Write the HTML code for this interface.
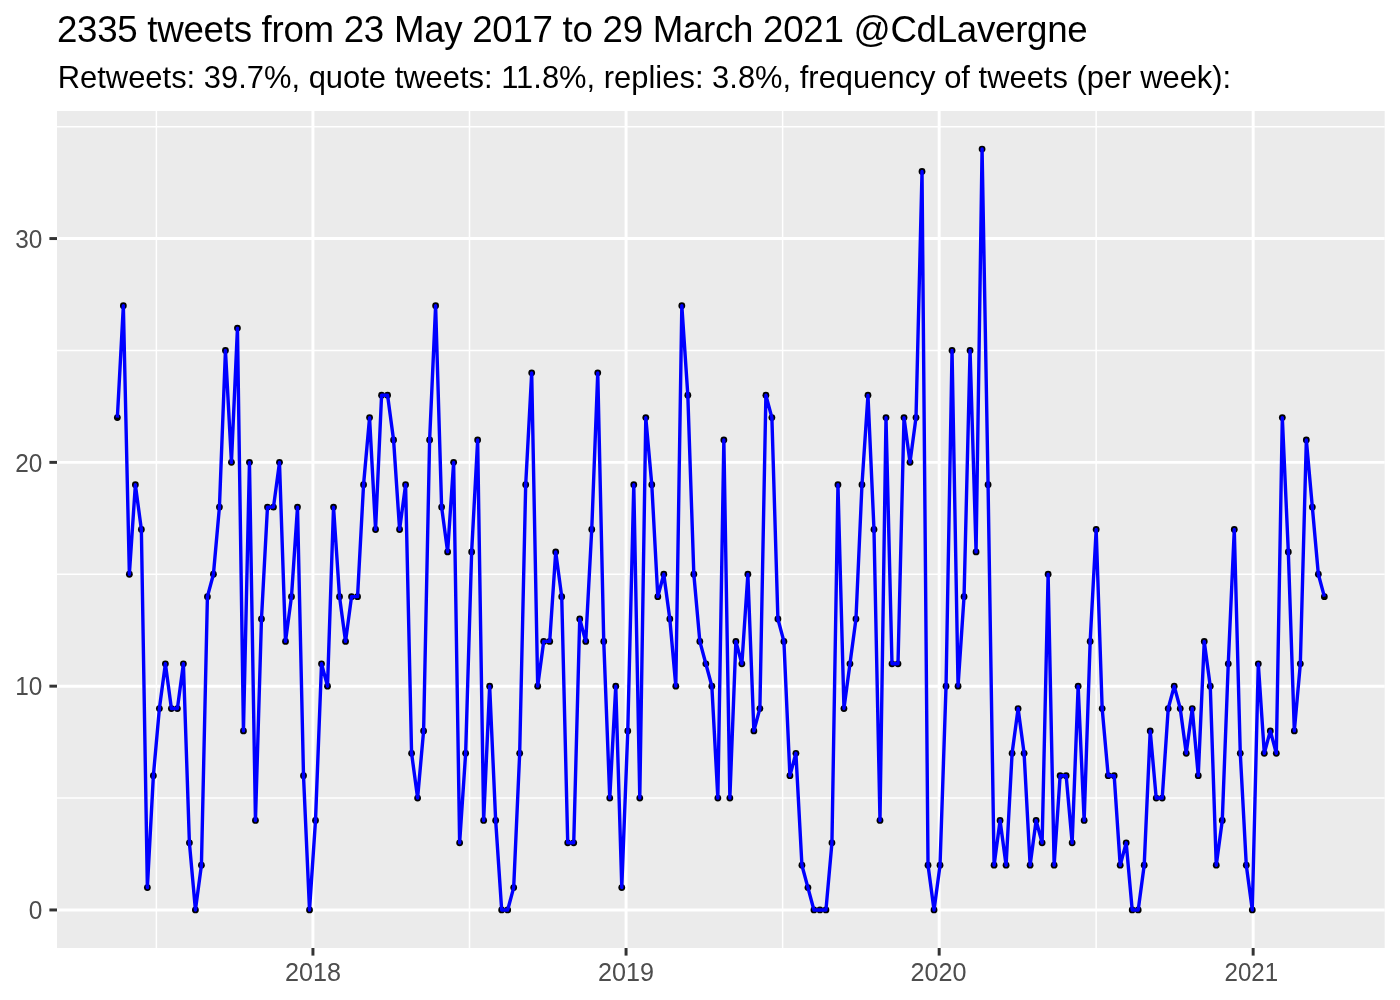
<!DOCTYPE html>
<html lang="en"><head><meta charset="utf-8"><title>Tweets per week @CdLavergne</title>
<style>html,body{margin:0;padding:0;background:#fff}svg{display:block}text{font-family:"Liberation Sans",sans-serif}</style></head><body>
<svg width="1400" height="1000" viewBox="0 0 1400 1000">
<rect width="1400" height="1000" fill="#fff"/>
<rect x="57.0" y="111.0" width="1327.70" height="837.00" fill="#EBEBEB"/>
<g stroke="#fff" stroke-width="1.48" fill="none">
<line x1="57.0" x2="1384.7" y1="798.06" y2="798.06"/>
<line x1="57.0" x2="1384.7" y1="574.26" y2="574.26"/>
<line x1="57.0" x2="1384.7" y1="350.46" y2="350.46"/>
<line x1="57.0" x2="1384.7" y1="126.67" y2="126.67"/>
<line x1="156.38" x2="156.38" y1="111.0" y2="948.0"/>
<line x1="469.50" x2="469.50" y1="111.0" y2="948.0"/>
<line x1="782.62" x2="782.62" y1="111.0" y2="948.0"/>
<line x1="1096.16" x2="1096.16" y1="111.0" y2="948.0"/>
</g>
<g stroke="#fff" stroke-width="2.96" fill="none">
<line x1="57.0" x2="1384.7" y1="909.95" y2="909.95"/>
<line x1="57.0" x2="1384.7" y1="686.16" y2="686.16"/>
<line x1="57.0" x2="1384.7" y1="462.36" y2="462.36"/>
<line x1="57.0" x2="1384.7" y1="238.56" y2="238.56"/>
<line x1="312.94" x2="312.94" y1="111.0" y2="948.0"/>
<line x1="626.06" x2="626.06" y1="111.0" y2="948.0"/>
<line x1="939.17" x2="939.17" y1="111.0" y2="948.0"/>
<line x1="1253.15" x2="1253.15" y1="111.0" y2="948.0"/>
</g>
<g fill="#000">
<circle cx="117.35" cy="417.60" r="3.4"/>
<circle cx="123.35" cy="305.70" r="3.4"/>
<circle cx="129.36" cy="574.26" r="3.4"/>
<circle cx="135.36" cy="484.74" r="3.4"/>
<circle cx="141.37" cy="529.50" r="3.4"/>
<circle cx="147.37" cy="887.57" r="3.4"/>
<circle cx="153.38" cy="775.68" r="3.4"/>
<circle cx="159.38" cy="708.54" r="3.4"/>
<circle cx="165.39" cy="663.78" r="3.4"/>
<circle cx="171.39" cy="708.54" r="3.4"/>
<circle cx="177.40" cy="708.54" r="3.4"/>
<circle cx="183.40" cy="663.78" r="3.4"/>
<circle cx="189.41" cy="842.82" r="3.4"/>
<circle cx="195.41" cy="909.95" r="3.4"/>
<circle cx="201.42" cy="865.20" r="3.4"/>
<circle cx="207.42" cy="596.64" r="3.4"/>
<circle cx="213.43" cy="574.26" r="3.4"/>
<circle cx="219.43" cy="507.12" r="3.4"/>
<circle cx="225.44" cy="350.46" r="3.4"/>
<circle cx="231.44" cy="462.36" r="3.4"/>
<circle cx="237.45" cy="328.08" r="3.4"/>
<circle cx="243.45" cy="730.92" r="3.4"/>
<circle cx="249.46" cy="462.36" r="3.4"/>
<circle cx="255.46" cy="820.44" r="3.4"/>
<circle cx="261.47" cy="619.02" r="3.4"/>
<circle cx="267.47" cy="507.12" r="3.4"/>
<circle cx="273.48" cy="507.12" r="3.4"/>
<circle cx="279.48" cy="462.36" r="3.4"/>
<circle cx="285.49" cy="641.40" r="3.4"/>
<circle cx="291.49" cy="596.64" r="3.4"/>
<circle cx="297.50" cy="507.12" r="3.4"/>
<circle cx="303.50" cy="775.68" r="3.4"/>
<circle cx="309.51" cy="909.95" r="3.4"/>
<circle cx="315.51" cy="820.44" r="3.4"/>
<circle cx="321.52" cy="663.78" r="3.4"/>
<circle cx="327.52" cy="686.16" r="3.4"/>
<circle cx="333.53" cy="507.12" r="3.4"/>
<circle cx="339.53" cy="596.64" r="3.4"/>
<circle cx="345.54" cy="641.40" r="3.4"/>
<circle cx="351.54" cy="596.64" r="3.4"/>
<circle cx="357.55" cy="596.64" r="3.4"/>
<circle cx="363.55" cy="484.74" r="3.4"/>
<circle cx="369.56" cy="417.60" r="3.4"/>
<circle cx="375.56" cy="529.50" r="3.4"/>
<circle cx="381.57" cy="395.22" r="3.4"/>
<circle cx="387.57" cy="395.22" r="3.4"/>
<circle cx="393.58" cy="439.98" r="3.4"/>
<circle cx="399.58" cy="529.50" r="3.4"/>
<circle cx="405.59" cy="484.74" r="3.4"/>
<circle cx="411.59" cy="753.30" r="3.4"/>
<circle cx="417.60" cy="798.06" r="3.4"/>
<circle cx="423.60" cy="730.92" r="3.4"/>
<circle cx="429.61" cy="439.98" r="3.4"/>
<circle cx="435.61" cy="305.70" r="3.4"/>
<circle cx="441.62" cy="507.12" r="3.4"/>
<circle cx="447.62" cy="551.88" r="3.4"/>
<circle cx="453.63" cy="462.36" r="3.4"/>
<circle cx="459.63" cy="842.82" r="3.4"/>
<circle cx="465.64" cy="753.30" r="3.4"/>
<circle cx="471.64" cy="551.88" r="3.4"/>
<circle cx="477.65" cy="439.98" r="3.4"/>
<circle cx="483.65" cy="820.44" r="3.4"/>
<circle cx="489.66" cy="686.16" r="3.4"/>
<circle cx="495.66" cy="820.44" r="3.4"/>
<circle cx="501.67" cy="909.95" r="3.4"/>
<circle cx="507.67" cy="909.95" r="3.4"/>
<circle cx="513.68" cy="887.57" r="3.4"/>
<circle cx="519.68" cy="753.30" r="3.4"/>
<circle cx="525.69" cy="484.74" r="3.4"/>
<circle cx="531.69" cy="372.84" r="3.4"/>
<circle cx="537.70" cy="686.16" r="3.4"/>
<circle cx="543.70" cy="641.40" r="3.4"/>
<circle cx="549.71" cy="641.40" r="3.4"/>
<circle cx="555.71" cy="551.88" r="3.4"/>
<circle cx="561.72" cy="596.64" r="3.4"/>
<circle cx="567.72" cy="842.82" r="3.4"/>
<circle cx="573.73" cy="842.82" r="3.4"/>
<circle cx="579.73" cy="619.02" r="3.4"/>
<circle cx="585.74" cy="641.40" r="3.4"/>
<circle cx="591.74" cy="529.50" r="3.4"/>
<circle cx="597.75" cy="372.84" r="3.4"/>
<circle cx="603.75" cy="641.40" r="3.4"/>
<circle cx="609.76" cy="798.06" r="3.4"/>
<circle cx="615.76" cy="686.16" r="3.4"/>
<circle cx="621.77" cy="887.57" r="3.4"/>
<circle cx="627.77" cy="730.92" r="3.4"/>
<circle cx="633.78" cy="484.74" r="3.4"/>
<circle cx="639.78" cy="798.06" r="3.4"/>
<circle cx="645.79" cy="417.60" r="3.4"/>
<circle cx="651.79" cy="484.74" r="3.4"/>
<circle cx="657.80" cy="596.64" r="3.4"/>
<circle cx="663.80" cy="574.26" r="3.4"/>
<circle cx="669.81" cy="619.02" r="3.4"/>
<circle cx="675.81" cy="686.16" r="3.4"/>
<circle cx="681.82" cy="305.70" r="3.4"/>
<circle cx="687.82" cy="395.22" r="3.4"/>
<circle cx="693.83" cy="574.26" r="3.4"/>
<circle cx="699.83" cy="641.40" r="3.4"/>
<circle cx="705.84" cy="663.78" r="3.4"/>
<circle cx="711.84" cy="686.16" r="3.4"/>
<circle cx="717.85" cy="798.06" r="3.4"/>
<circle cx="723.85" cy="439.98" r="3.4"/>
<circle cx="729.86" cy="798.06" r="3.4"/>
<circle cx="735.86" cy="641.40" r="3.4"/>
<circle cx="741.87" cy="663.78" r="3.4"/>
<circle cx="747.87" cy="574.26" r="3.4"/>
<circle cx="753.88" cy="730.92" r="3.4"/>
<circle cx="759.88" cy="708.54" r="3.4"/>
<circle cx="765.89" cy="395.22" r="3.4"/>
<circle cx="771.89" cy="417.60" r="3.4"/>
<circle cx="777.90" cy="619.02" r="3.4"/>
<circle cx="783.90" cy="641.40" r="3.4"/>
<circle cx="789.91" cy="775.68" r="3.4"/>
<circle cx="795.91" cy="753.30" r="3.4"/>
<circle cx="801.92" cy="865.20" r="3.4"/>
<circle cx="807.92" cy="887.57" r="3.4"/>
<circle cx="813.93" cy="909.95" r="3.4"/>
<circle cx="819.93" cy="909.95" r="3.4"/>
<circle cx="825.94" cy="909.95" r="3.4"/>
<circle cx="831.94" cy="842.82" r="3.4"/>
<circle cx="837.95" cy="484.74" r="3.4"/>
<circle cx="843.95" cy="708.54" r="3.4"/>
<circle cx="849.96" cy="663.78" r="3.4"/>
<circle cx="855.96" cy="619.02" r="3.4"/>
<circle cx="861.97" cy="484.74" r="3.4"/>
<circle cx="867.97" cy="395.22" r="3.4"/>
<circle cx="873.98" cy="529.50" r="3.4"/>
<circle cx="879.98" cy="820.44" r="3.4"/>
<circle cx="885.99" cy="417.60" r="3.4"/>
<circle cx="891.99" cy="663.78" r="3.4"/>
<circle cx="898.00" cy="663.78" r="3.4"/>
<circle cx="904.00" cy="417.60" r="3.4"/>
<circle cx="910.01" cy="462.36" r="3.4"/>
<circle cx="916.01" cy="417.60" r="3.4"/>
<circle cx="922.02" cy="171.43" r="3.4"/>
<circle cx="928.02" cy="865.20" r="3.4"/>
<circle cx="934.03" cy="909.95" r="3.4"/>
<circle cx="940.03" cy="865.20" r="3.4"/>
<circle cx="946.04" cy="686.16" r="3.4"/>
<circle cx="952.04" cy="350.46" r="3.4"/>
<circle cx="958.05" cy="686.16" r="3.4"/>
<circle cx="964.05" cy="596.64" r="3.4"/>
<circle cx="970.06" cy="350.46" r="3.4"/>
<circle cx="976.06" cy="551.88" r="3.4"/>
<circle cx="982.07" cy="149.05" r="3.4"/>
<circle cx="988.07" cy="484.74" r="3.4"/>
<circle cx="994.08" cy="865.20" r="3.4"/>
<circle cx="1000.08" cy="820.44" r="3.4"/>
<circle cx="1006.09" cy="865.20" r="3.4"/>
<circle cx="1012.09" cy="753.30" r="3.4"/>
<circle cx="1018.10" cy="708.54" r="3.4"/>
<circle cx="1024.10" cy="753.30" r="3.4"/>
<circle cx="1030.11" cy="865.20" r="3.4"/>
<circle cx="1036.11" cy="820.44" r="3.4"/>
<circle cx="1042.12" cy="842.82" r="3.4"/>
<circle cx="1048.12" cy="574.26" r="3.4"/>
<circle cx="1054.13" cy="865.20" r="3.4"/>
<circle cx="1060.13" cy="775.68" r="3.4"/>
<circle cx="1066.14" cy="775.68" r="3.4"/>
<circle cx="1072.14" cy="842.82" r="3.4"/>
<circle cx="1078.15" cy="686.16" r="3.4"/>
<circle cx="1084.15" cy="820.44" r="3.4"/>
<circle cx="1090.16" cy="641.40" r="3.4"/>
<circle cx="1096.16" cy="529.50" r="3.4"/>
<circle cx="1102.17" cy="708.54" r="3.4"/>
<circle cx="1108.17" cy="775.68" r="3.4"/>
<circle cx="1114.18" cy="775.68" r="3.4"/>
<circle cx="1120.18" cy="865.20" r="3.4"/>
<circle cx="1126.19" cy="842.82" r="3.4"/>
<circle cx="1132.19" cy="909.95" r="3.4"/>
<circle cx="1138.20" cy="909.95" r="3.4"/>
<circle cx="1144.20" cy="865.20" r="3.4"/>
<circle cx="1150.21" cy="730.92" r="3.4"/>
<circle cx="1156.21" cy="798.06" r="3.4"/>
<circle cx="1162.22" cy="798.06" r="3.4"/>
<circle cx="1168.22" cy="708.54" r="3.4"/>
<circle cx="1174.23" cy="686.16" r="3.4"/>
<circle cx="1180.23" cy="708.54" r="3.4"/>
<circle cx="1186.24" cy="753.30" r="3.4"/>
<circle cx="1192.24" cy="708.54" r="3.4"/>
<circle cx="1198.25" cy="775.68" r="3.4"/>
<circle cx="1204.25" cy="641.40" r="3.4"/>
<circle cx="1210.26" cy="686.16" r="3.4"/>
<circle cx="1216.26" cy="865.20" r="3.4"/>
<circle cx="1222.27" cy="820.44" r="3.4"/>
<circle cx="1228.27" cy="663.78" r="3.4"/>
<circle cx="1234.28" cy="529.50" r="3.4"/>
<circle cx="1240.28" cy="753.30" r="3.4"/>
<circle cx="1246.29" cy="865.20" r="3.4"/>
<circle cx="1252.29" cy="909.95" r="3.4"/>
<circle cx="1258.30" cy="663.78" r="3.4"/>
<circle cx="1264.30" cy="753.30" r="3.4"/>
<circle cx="1270.31" cy="730.92" r="3.4"/>
<circle cx="1276.31" cy="753.30" r="3.4"/>
<circle cx="1282.32" cy="417.60" r="3.4"/>
<circle cx="1288.32" cy="551.88" r="3.4"/>
<circle cx="1294.33" cy="730.92" r="3.4"/>
<circle cx="1300.33" cy="663.78" r="3.4"/>
<circle cx="1306.34" cy="439.98" r="3.4"/>
<circle cx="1312.34" cy="507.12" r="3.4"/>
<circle cx="1318.35" cy="574.26" r="3.4"/>
<circle cx="1324.35" cy="596.64" r="3.4"/>
</g>
<polyline points="117.35,417.60 123.35,305.70 129.36,574.26 135.36,484.74 141.37,529.50 147.37,887.57 153.38,775.68 159.38,708.54 165.39,663.78 171.39,708.54 177.40,708.54 183.40,663.78 189.41,842.82 195.41,909.95 201.42,865.20 207.42,596.64 213.43,574.26 219.43,507.12 225.44,350.46 231.44,462.36 237.45,328.08 243.45,730.92 249.46,462.36 255.46,820.44 261.47,619.02 267.47,507.12 273.48,507.12 279.48,462.36 285.49,641.40 291.49,596.64 297.50,507.12 303.50,775.68 309.51,909.95 315.51,820.44 321.52,663.78 327.52,686.16 333.53,507.12 339.53,596.64 345.54,641.40 351.54,596.64 357.55,596.64 363.55,484.74 369.56,417.60 375.56,529.50 381.57,395.22 387.57,395.22 393.58,439.98 399.58,529.50 405.59,484.74 411.59,753.30 417.60,798.06 423.60,730.92 429.61,439.98 435.61,305.70 441.62,507.12 447.62,551.88 453.63,462.36 459.63,842.82 465.64,753.30 471.64,551.88 477.65,439.98 483.65,820.44 489.66,686.16 495.66,820.44 501.67,909.95 507.67,909.95 513.68,887.57 519.68,753.30 525.69,484.74 531.69,372.84 537.70,686.16 543.70,641.40 549.71,641.40 555.71,551.88 561.72,596.64 567.72,842.82 573.73,842.82 579.73,619.02 585.74,641.40 591.74,529.50 597.75,372.84 603.75,641.40 609.76,798.06 615.76,686.16 621.77,887.57 627.77,730.92 633.78,484.74 639.78,798.06 645.79,417.60 651.79,484.74 657.80,596.64 663.80,574.26 669.81,619.02 675.81,686.16 681.82,305.70 687.82,395.22 693.83,574.26 699.83,641.40 705.84,663.78 711.84,686.16 717.85,798.06 723.85,439.98 729.86,798.06 735.86,641.40 741.87,663.78 747.87,574.26 753.88,730.92 759.88,708.54 765.89,395.22 771.89,417.60 777.90,619.02 783.90,641.40 789.91,775.68 795.91,753.30 801.92,865.20 807.92,887.57 813.93,909.95 819.93,909.95 825.94,909.95 831.94,842.82 837.95,484.74 843.95,708.54 849.96,663.78 855.96,619.02 861.97,484.74 867.97,395.22 873.98,529.50 879.98,820.44 885.99,417.60 891.99,663.78 898.00,663.78 904.00,417.60 910.01,462.36 916.01,417.60 922.02,171.43 928.02,865.20 934.03,909.95 940.03,865.20 946.04,686.16 952.04,350.46 958.05,686.16 964.05,596.64 970.06,350.46 976.06,551.88 982.07,149.05 988.07,484.74 994.08,865.20 1000.08,820.44 1006.09,865.20 1012.09,753.30 1018.10,708.54 1024.10,753.30 1030.11,865.20 1036.11,820.44 1042.12,842.82 1048.12,574.26 1054.13,865.20 1060.13,775.68 1066.14,775.68 1072.14,842.82 1078.15,686.16 1084.15,820.44 1090.16,641.40 1096.16,529.50 1102.17,708.54 1108.17,775.68 1114.18,775.68 1120.18,865.20 1126.19,842.82 1132.19,909.95 1138.20,909.95 1144.20,865.20 1150.21,730.92 1156.21,798.06 1162.22,798.06 1168.22,708.54 1174.23,686.16 1180.23,708.54 1186.24,753.30 1192.24,708.54 1198.25,775.68 1204.25,641.40 1210.26,686.16 1216.26,865.20 1222.27,820.44 1228.27,663.78 1234.28,529.50 1240.28,753.30 1246.29,865.20 1252.29,909.95 1258.30,663.78 1264.30,753.30 1270.31,730.92 1276.31,753.30 1282.32,417.60 1288.32,551.88 1294.33,730.92 1300.33,663.78 1306.34,439.98 1312.34,507.12 1318.35,574.26 1324.35,596.64" fill="none" stroke="#0000FF" stroke-width="3.4" stroke-linejoin="round" stroke-linecap="butt"/>
<g stroke="#333" stroke-width="2.96">
<line x1="49.40" x2="57.0" y1="909.95" y2="909.95"/>
<line x1="49.40" x2="57.0" y1="686.16" y2="686.16"/>
<line x1="49.40" x2="57.0" y1="462.36" y2="462.36"/>
<line x1="49.40" x2="57.0" y1="238.56" y2="238.56"/>
<line x1="312.94" x2="312.94" y1="948.0" y2="955.60"/>
<line x1="626.06" x2="626.06" y1="948.0" y2="955.60"/>
<line x1="939.17" x2="939.17" y1="948.0" y2="955.60"/>
<line x1="1253.15" x2="1253.15" y1="948.0" y2="955.60"/>
</g>
<g fill="#4D4D4D" font-size="26.2">
<text x="42.30" y="919.25" text-anchor="end" textLength="13.6" lengthAdjust="spacingAndGlyphs">0</text>
<text x="42.30" y="695.46" text-anchor="end" textLength="27.1" lengthAdjust="spacingAndGlyphs">10</text>
<text x="42.30" y="471.66" text-anchor="end" textLength="27.1" lengthAdjust="spacingAndGlyphs">20</text>
<text x="42.30" y="247.86" text-anchor="end" textLength="27.1" lengthAdjust="spacingAndGlyphs">30</text>
<text x="312.94" y="980.50" text-anchor="middle" textLength="56" lengthAdjust="spacingAndGlyphs">2018</text>
<text x="626.06" y="980.50" text-anchor="middle" textLength="56" lengthAdjust="spacingAndGlyphs">2019</text>
<text x="938.57" y="980.50" text-anchor="middle" textLength="56" lengthAdjust="spacingAndGlyphs">2020</text>
<text x="1251.35" y="980.50" text-anchor="middle" textLength="53.6" lengthAdjust="spacingAndGlyphs">2021</text>
</g>
<text x="57.0" y="41.5" font-size="36.7" fill="#000" textLength="1030.7" lengthAdjust="spacing">2335 tweets from 23 May 2017 to 29 March 2021 @CdLavergne</text>
<text x="57.7" y="88" font-size="30.9" fill="#000" textLength="1173.5" lengthAdjust="spacing">Retweets: 39.7%, quote tweets: 11.8%, replies: 3.8%, frequency of tweets (per week):</text>
</svg></body></html>
